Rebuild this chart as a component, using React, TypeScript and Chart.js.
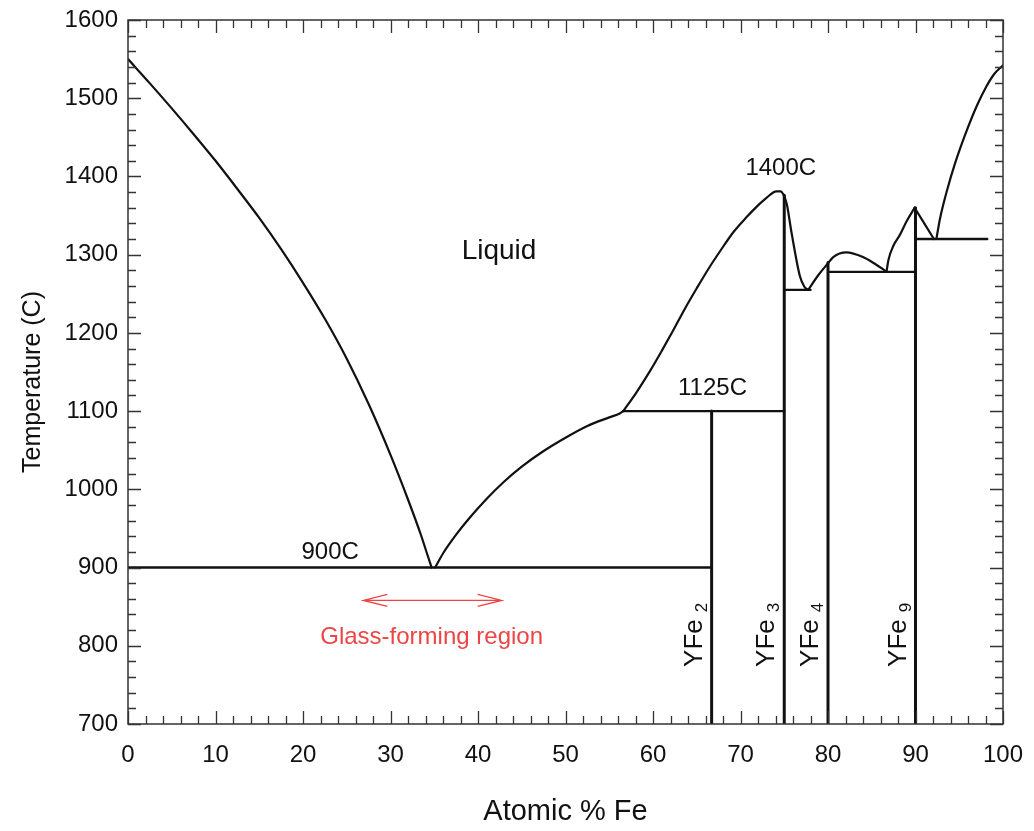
import React, { useEffect, useRef } from "react";
import { Chart, registerables } from "chart.js";

Chart.register(...registerables);

type Pt = { x: number; y: number };

// ---- axes ----
const X_MIN = 0;
const X_MAX = 100;
const Y_MIN = 700;
const Y_MAX = 1600;
const X_MAJOR = 10;
const X_MINOR = 2;
const Y_MAJOR = 100;
const Y_MINOR = 20;

const FONT = '"Liberation Sans", Arial, Helvetica, sans-serif';

// ---- liquidus curves (atomic % Fe, temperature C) ----
const liquidusY: Pt[] = [
  { x: 0, y: 1550 }, { x: 2.5, y: 1519 }, { x: 5, y: 1487 }, { x: 7.5, y: 1454 },
  { x: 10, y: 1420 }, { x: 12.5, y: 1384 }, { x: 15, y: 1347 }, { x: 17.5, y: 1307 },
  { x: 20, y: 1264 }, { x: 22.5, y: 1218 }, { x: 25, y: 1167 }, { x: 27.5, y: 1109 },
  { x: 30, y: 1044 }, { x: 32, y: 987 }, { x: 33.5, y: 941 }, { x: 34.2, y: 917 },
  { x: 34.7, y: 900 },
];
const liquidusEutecticRight: Pt[] = [
  { x: 35.1, y: 900 }, { x: 36, y: 918 }, { x: 37.5, y: 942 }, { x: 39, y: 963 },
  { x: 41, y: 988 }, { x: 43, y: 1010 }, { x: 45, y: 1029 }, { x: 47.5, y: 1049 },
  { x: 50, y: 1066 }, { x: 52.5, y: 1081 }, { x: 55, y: 1092 }, { x: 56.2, y: 1097 },
  { x: 56.6, y: 1100 },
];
const liquidusYFe3: Pt[] = [
  { x: 56.6, y: 1100 }, { x: 58, y: 1122 }, { x: 59.7, y: 1152 }, { x: 61, y: 1177 },
  { x: 62.3, y: 1203 }, { x: 63.6, y: 1230 }, { x: 65, y: 1257 }, { x: 66.4, y: 1283 },
  { x: 67.7, y: 1305 }, { x: 69.2, y: 1329 }, { x: 70.7, y: 1348 }, { x: 72, y: 1363 },
  { x: 73, y: 1373 }, { x: 74.1, y: 1381 }, { x: 74.6, y: 1381 }, { x: 75, y: 1375 },
];
const liquidusYFe3Right: Pt[] = [
  { x: 75, y: 1375 }, { x: 75.3, y: 1364 }, { x: 75.85, y: 1327 }, { x: 76.8, y: 1272 },
  { x: 77.3, y: 1259 }, { x: 77.7, y: 1255 },
];
const liquidusYFe4: Pt[] = [
  { x: 77.8, y: 1256 }, { x: 78.9, y: 1274 }, { x: 80, y: 1289 }, { x: 80.6, y: 1297 },
  { x: 82.1, y: 1303 }, { x: 84, y: 1297 }, { x: 85.4, y: 1288 }, { x: 86.6, y: 1279 },
];
const liquidusYFe9Left: Pt[] = [
  { x: 86.7, y: 1279 }, { x: 86.9, y: 1293 }, { x: 87.5, y: 1312 }, { x: 88.2, y: 1325 },
  { x: 89.0, y: 1343 }, { x: 89.9, y: 1360 },
];
const liquidusYFe9Right: Pt[] = [
  { x: 89.9, y: 1360 }, { x: 91, y: 1340 }, { x: 92.1, y: 1320 },
];
const liquidusFe: Pt[] = [
  { x: 92.4, y: 1321 }, { x: 92.8, y: 1346 }, { x: 93.6, y: 1382 }, { x: 94.5, y: 1416 },
  { x: 95.7, y: 1454 }, { x: 97, y: 1490 }, { x: 98.1, y: 1515 }, { x: 99, y: 1531 },
  { x: 100, y: 1542 },
];

// ---- invariant (horizontal) lines ----
const eutectic900: Pt[] = [{ x: 0, y: 900 }, { x: 66.7, y: 900 }];
const eutectic1100: Pt[] = [{ x: 56.6, y: 1100 }, { x: 75, y: 1100 }];
const peritectic1255: Pt[] = [{ x: 75, y: 1255 }, { x: 78, y: 1255 }];
const peritectic1278: Pt[] = [{ x: 80, y: 1278 }, { x: 90, y: 1278 }];
const peritectic1320: Pt[] = [{ x: 90, y: 1320 }, { x: 98.2, y: 1320 }];

// ---- compounds (vertical lines) ----
const compoundNames = ["YFe", "YFe", "YFe", "YFe"];
const compoundSubs = ["2", "3", "4", "9"];
const compoundX = [66.7, 75, 80, 90];
const compoundTop = [1100, 1376, 1290, 1360];
const compoundLabelY = 773;

// ---- text annotations ----
const labelTexts = ["Liquid", "1400C", "1125C", "900C"];
const labelX = [42.4, 74.6, 66.8, 23.1];
const labelY = [1304, 1410, 1129, 920];
const labelSizes = [28, 24, 24, 24];

const glassText = "Glass-forming region";
const glassTextPos: Pt = { x: 34.7, y: 811 };
const glassArrowFrom: Pt = { x: 26.9, y: 858 };
const glassArrowTo: Pt = { x: 42.7, y: 858 };

const xTitle = "Atomic % Fe";
const yTitle = "Temperature (C)";

const RED = "#ec4545";
const INK = "#111111";

function seg(data: Pt[], width: number, curve: boolean) {
  return {
    data,
    borderColor: INK,
    backgroundColor: INK,
    borderWidth: width,
    pointRadius: 0,
    pointHoverRadius: 0,
    fill: false,
    showLine: true,
    cubicInterpolationMode: curve ? ("monotone" as const) : ("default" as const),
    tension: 0,
    borderCapStyle: "round" as const,
    borderJoinStyle: "round" as const,
  };
}

const overlay = {
  id: "overlay",
  afterDatasetsDraw(chart: any) {
    const { ctx, chartArea: a, scales } = chart;
    const xs = scales.x;
    const ys = scales.y;
    ctx.save();

    // frame
    ctx.strokeStyle = "#333";
    ctx.lineWidth = 1.5;
    ctx.strokeRect(a.left, a.top, a.right - a.left, a.bottom - a.top);

    // inward ticks on all four sides
    ctx.lineWidth = 1.3;
    ctx.beginPath();
    for (let v = X_MIN; v <= X_MAX + 1e-9; v += X_MINOR) {
      const px = Math.round(xs.getPixelForValue(v)) + 0.5;
      const major = Math.abs(v / X_MAJOR - Math.round(v / X_MAJOR)) < 1e-6;
      const len = major ? 13 : 8;
      ctx.moveTo(px, a.bottom);
      ctx.lineTo(px, a.bottom - len);
      ctx.moveTo(px, a.top);
      ctx.lineTo(px, a.top + len);
    }
    for (let v = Y_MIN; v <= Y_MAX + 1e-9; v += Y_MINOR) {
      const py = Math.round(ys.getPixelForValue(v)) + 0.5;
      const major = Math.abs(v / Y_MAJOR - Math.round(v / Y_MAJOR)) < 1e-6;
      const len = major ? 13 : 8;
      ctx.moveTo(a.left, py);
      ctx.lineTo(a.left + len, py);
      ctx.moveTo(a.right, py);
      ctx.lineTo(a.right - len, py);
    }
    ctx.stroke();

    // text labels
    ctx.fillStyle = INK;
    ctx.textAlign = "center";
    ctx.textBaseline = "middle";
    labelTexts.forEach((t, i) => {
      ctx.font = `${labelSizes[i]}px ${FONT}`;
      ctx.fillText(t, xs.getPixelForValue(labelX[i]), ys.getPixelForValue(labelY[i]));
    });

    // compound labels (rotated)
    compoundNames.forEach((name, i) => {
      const px = xs.getPixelForValue(compoundX[i]) - 10;
      const py = ys.getPixelForValue(compoundLabelY);
      ctx.save();
      ctx.translate(px, py);
      ctx.rotate(-Math.PI / 2);
      ctx.textAlign = "left";
      ctx.textBaseline = "alphabetic";
      ctx.font = `26px ${FONT}`;
      ctx.fillText(name, 0, 0);
      const w = ctx.measureText(name).width;
      ctx.font = `17px ${FONT}`;
      ctx.fillText(compoundSubs[i], w + 7, 5);
      ctx.restore();
    });

    // glass-forming region
    ctx.fillStyle = RED;
    ctx.font = `24px ${FONT}`;
    ctx.textAlign = "center";
    ctx.textBaseline = "middle";
    ctx.fillText(glassText, xs.getPixelForValue(glassTextPos.x), ys.getPixelForValue(glassTextPos.y));
    const ax0 = xs.getPixelForValue(glassArrowFrom.x);
    const ax1 = xs.getPixelForValue(glassArrowTo.x);
    const ay = ys.getPixelForValue(glassArrowFrom.y);
    ctx.strokeStyle = RED;
    ctx.lineWidth = 1.4;
    ctx.beginPath();
    ctx.moveTo(ax0, ay);
    ctx.lineTo(ax1, ay);
    ctx.moveTo(ax0 + 24, ay - 6);
    ctx.lineTo(ax0, ay);
    ctx.lineTo(ax0 + 24, ay + 6);
    ctx.moveTo(ax1 - 24, ay - 6);
    ctx.lineTo(ax1, ay);
    ctx.lineTo(ax1 - 24, ay + 6);
    ctx.stroke();

    // axis titles
    ctx.fillStyle = INK;
    ctx.textAlign = "center";
    ctx.textBaseline = "middle";
    ctx.font = `29px ${FONT}`;
    ctx.fillText(xTitle, (a.left + a.right) / 2, 812);
    ctx.save();
    ctx.font = `25px ${FONT}`;
    ctx.translate(33, (a.top + a.bottom) / 2 + 10);
    ctx.rotate(-Math.PI / 2);
    ctx.fillText(yTitle, 0, 0);
    ctx.restore();

    ctx.restore();
  },
};

export default function App() {
  const ref = useRef<HTMLCanvasElement | null>(null);
  useEffect(() => {
    if (!ref.current) return;
    const chart = new Chart(ref.current, {
      type: "scatter",
      data: {
        datasets: [
          seg(liquidusY, 2.2, true),
          seg(liquidusEutecticRight, 2.2, true),
          seg(liquidusYFe3, 2.2, true),
          seg(liquidusYFe3Right, 2.2, true),
          seg(liquidusYFe4, 2.2, true),
          seg(liquidusYFe9Left, 2.2, true),
          seg(liquidusYFe9Right, 2.2, false),
          seg(liquidusFe, 2.2, true),
          seg(eutectic900, 2.4, false),
          seg(eutectic1100, 2.4, false),
          seg(peritectic1255, 2.4, false),
          seg(peritectic1278, 2.4, false),
          seg(peritectic1320, 2.4, false),
          ...compoundX.map((cx, i) =>
            seg([{ x: cx, y: Y_MIN }, { x: cx, y: compoundTop[i] }], 3, false)
          ),
        ] as any,
      },
      options: {
        responsive: false,
        animation: false,
        devicePixelRatio: 1,
        layout: { padding: { left: 0, right: 31, top: 20, bottom: 0 } },
        plugins: {
          legend: { display: false },
          tooltip: { enabled: false },
        },
        events: [],
        scales: {
          x: {
            type: "linear",
            min: X_MIN,
            max: X_MAX,
            grid: { display: false, drawTicks: false },
            border: { display: false },
            ticks: {
              stepSize: X_MAJOR,
              color: INK,
              font: { size: 24, family: FONT },
              padding: 17,
              maxRotation: 0,
              callback: (v: any) => String(v),
            },
            afterFit: (s: any) => {
              s.height = 107;
              s.paddingLeft = 0;
              s.paddingRight = 0;
            },
          },
          y: {
            type: "linear",
            min: Y_MIN,
            max: Y_MAX,
            grid: { display: false, drawTicks: false },
            border: { display: false },
            ticks: {
              stepSize: Y_MAJOR,
              color: INK,
              font: { size: 24, family: FONT },
              padding: 10,
              callback: (v: any) => String(v),
            },
            afterFit: (s: any) => {
              s.width = 128;
              s.paddingTop = 0;
              s.paddingBottom = 0;
            },
          },
        },
      },
      plugins: [overlay],
    });
    return () => chart.destroy();
  }, []);

  return (
    <div style={{ position: "absolute", left: 0, top: 0, width: 1034, height: 831, background: "#fff" }}>
      <canvas ref={ref} width={1034} height={831} />
    </div>
  );
}
